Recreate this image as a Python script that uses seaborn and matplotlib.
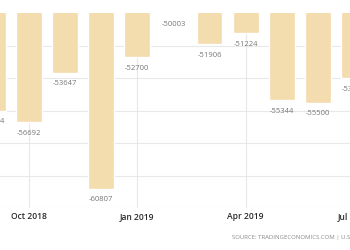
import matplotlib
matplotlib.use("Agg")
import matplotlib.pyplot as plt
import seaborn as sns
import pandas as pd

months = ["Sep 2018", "Oct 2018", "Nov 2018", "Dec 2018", "Jan 2019", "Feb 2019",
          "Mar 2019", "Apr 2019", "May 2019", "Jun 2019", "Jul 2019"]
values = [-55994, -56692, -53647, -60807, -52700, -50003,
          -51906, -51224, -55344, -55500, -53989]
tick_labels = ["Oct 2018", "Jan 2019", "Apr 2019", "Jul 2019"]
source_text = "SOURCE: TRADINGECONOMICS.COM | U.S. CENSUS BUREAU"

df = pd.DataFrame({"month": months, "value": values})

sns.set_style("white")
plt.rcParams["font.family"] = ["Open Sans", "DejaVu Sans"]

W, H = 350, 250
fig = plt.figure(figsize=(3.5, 2.5), dpi=100)
L, R = -30, 380
top_px, bot_px = 13.4, 208
ax = fig.add_axes([L / W, 1 - bot_px / H, (R - L) / W, (bot_px - top_px) / H])

sns.barplot(data=df, x="month", y="value", color="#f3dcae", saturation=1,
            width=0.72, ax=ax, zorder=2)

ax.set_xlim(1 + (L - 29) / 36.1, 1 + (R - 29) / 36.1)
ax.set_ylim(-62000, -50000)
ax.set_yticks(range(-62000, -51999, 2000))
ax.set_yticklabels([])
ax.set_xticks([months.index(t) for t in tick_labels])
ax.set_xticklabels(tick_labels, fontsize=6.1, color="#2a2a2a", fontweight="semibold")
ax.tick_params(axis="both", length=0, pad=3)
ax.grid(True, color="#e8e8e8", linewidth=0.8, zorder=0)
ax.set_axisbelow(True)
for s in ax.spines.values():
    s.set_visible(False)
ax.set_xlabel("")
ax.set_ylabel("")

for i, v in enumerate(values):
    ax.annotate(str(v), (i, v), xytext=(0, -8), textcoords="offset points",
                ha="center", va="center", fontsize=5.5, color="#777777",
                annotation_clip=False)

fig.text(232 / W, 1 - 238 / H, source_text, fontsize=4.3, color="#888888",
         ha="left", va="center")

fig.savefig("out.png", dpi=100)
